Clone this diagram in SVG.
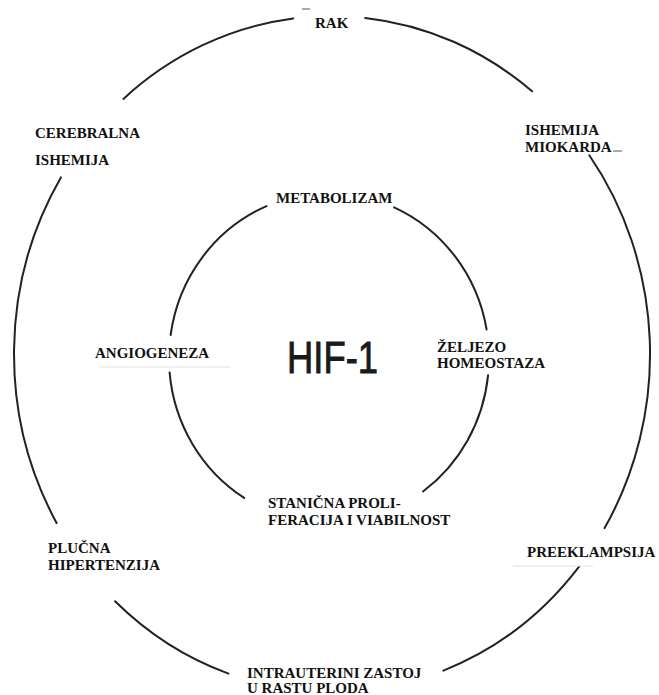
<svg xmlns="http://www.w3.org/2000/svg" width="659" height="695" viewBox="0 0 659 695">
<style>
.lbl{font-family:"Liberation Serif","Times New Roman",serif;font-weight:bold;font-size:15px;fill:#111}
.arc{fill:none;stroke:#222;stroke-width:2;stroke-linecap:round}
.faint{fill:none;stroke:#e2e2e2;stroke-width:1}
.dash{fill:none;stroke:#555;stroke-width:1}
</style>
<rect width="659" height="695" fill="#fff"/>
<g id="connectors">
<path class="arc" d="M123.4,98.9 A318,338 0 0 1 293.2,18.5"/>
<path class="arc" d="M365.2,17.9 A318,338 0 0 1 532.1,91.3"/>
<path class="arc" d="M589.3,155.3 A318,338 0 0 1 604.6,528.1"/>
<path class="arc" d="M579.1,566.7 A318,338 0 0 1 443.4,670.6"/>
<path class="arc" d="M228.5,673.6 A318,338 0 0 1 115.1,601.2"/>
<path class="arc" d="M56.6,523 A318,338 0 0 1 60.9,177.4"/>
<path class="arc" d="M170.6,335 A160,165 0 0 1 266.5,206.1"/>
<path class="arc" d="M244.2,497.9 A160,165 0 0 1 169.6,372.4"/>
<path class="arc" d="M488.1,375.2 A160,165 0 0 1 423,491.5"/>
<path class="arc" d="M394.1,207.3 A160,165 0 0 1 486.6,329.4"/>
<line class="dash" x1="302" y1="9" x2="310" y2="9"/>
<line class="dash" x1="613" y1="151" x2="622" y2="151"/>
<line class="faint" x1="100" y1="367" x2="230" y2="367"/>
<line class="faint" x1="513" y1="566" x2="593" y2="566"/>
</g>
<g id="hif1"><text x="287" y="373" font-family="Liberation Sans, Arial, sans-serif" font-size="44" fill="#1a1a1a" stroke="#1a1a1a" stroke-width="0.9" textLength="91" lengthAdjust="spacingAndGlyphs">HIF-1</text></g>
<g id="rak"><text class="lbl" x="315" y="28">RAK</text></g>
<g id="cerebralna"><text class="lbl" x="35" y="138">CEREBRALNA</text><text class="lbl" x="35" y="165">ISHEMIJA</text></g>
<g id="miokard"><text class="lbl" x="525" y="135">ISHEMIJA</text><text class="lbl" x="525" y="152">MIOKARDA</text></g>
<g id="metabolizam"><text class="lbl" x="276" y="203">METABOLIZAM</text></g>
<g id="angiogeneza"><text class="lbl" x="95" y="358">ANGIOGENEZA</text></g>
<g id="zeljezo"><text class="lbl" x="437" y="352">ŽELJEZO</text><text class="lbl" x="437" y="368">HOMEOSTAZA</text></g>
<g id="stanicna"><text class="lbl" x="268" y="508">STANIČNA PROLI-</text><text class="lbl" x="268" y="525">FERACIJA I VIABILNOST</text></g>
<g id="plucna"><text class="lbl" x="48" y="553">PLUČNA</text><text class="lbl" x="48" y="570">HIPERTENZIJA</text></g>
<g id="preeklampsija"><text class="lbl" x="527" y="557">PREEKLAMPSIJA</text></g>
<g id="iugr"><text class="lbl" x="247" y="678">INTRAUTERINI ZASTOJ</text><text class="lbl" x="247" y="693">U RASTU PLODA</text></g>
</svg>
